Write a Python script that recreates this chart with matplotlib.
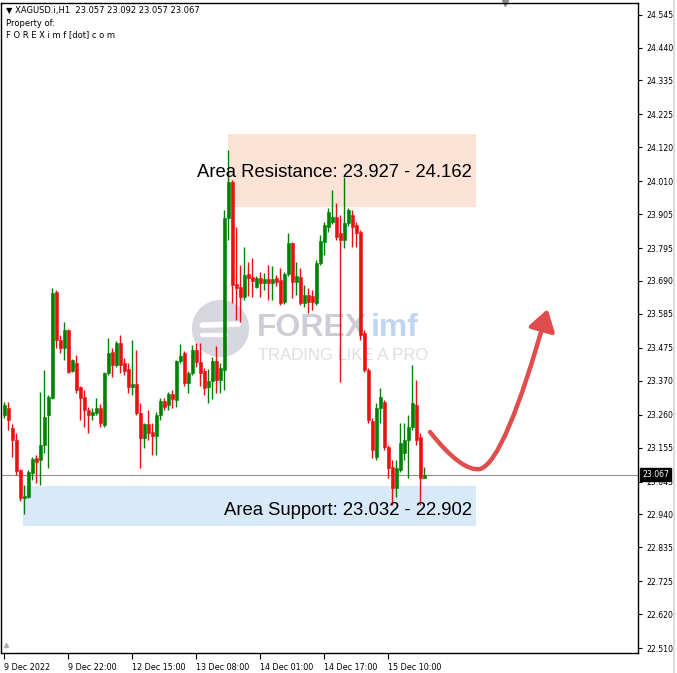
import matplotlib
matplotlib.use("Agg")
import matplotlib.pyplot as plt
import matplotlib.transforms as mtransforms
from matplotlib.patches import FancyArrowPatch, Rectangle
from matplotlib.path import Path
from matplotlib.lines import Line2D
import numpy as np

# XAGUSD H1 candles (oldest first)
opens = [23.260, 23.282, 23.218, 23.179, 23.083, 22.993, 22.996, 23.073, 23.121, 23.115,
         23.163, 23.260, 23.314, 23.655, 23.501, 23.475, 23.533, 23.401, 23.427, 23.349,
         23.317, 23.276, 23.260, 23.266, 23.282, 23.227, 23.394, 23.462, 23.420, 23.491,
         23.427, 23.407, 23.349, 23.359, 23.266, 23.186, 23.231, 23.205, 23.192, 23.260,
         23.305, 23.292, 23.327, 23.308, 23.433, 23.459, 23.362, 23.394, 23.468, 23.430,
         23.401, 23.349, 23.369, 23.433, 23.372, 23.404, 23.893, 24.008, 23.681, 23.671,
         23.639, 23.713, 23.703, 23.671, 23.700, 23.684, 23.697, 23.684, 23.700, 23.693,
         23.623, 23.713, 23.812, 23.687, 23.703, 23.619, 23.645, 23.642, 23.619, 23.748,
         23.815, 23.864, 23.880, 23.896, 23.844, 23.822, 23.877, 23.902, 23.870, 23.848,
         23.523, 23.404, 23.240, 23.124, 23.282, 23.301, 23.157, 23.092, 23.025, 23.083,
         23.137, 23.179, 23.221, 23.292, 23.189, 23.057]
highs = [23.301, 23.301, 23.231, 23.202, 23.086, 23.035, 23.083, 23.124, 23.131, 23.333,
         23.404, 23.324, 23.667, 23.661, 23.517, 23.558, 23.536, 23.439, 23.452, 23.353,
         23.340, 23.285, 23.282, 23.314, 23.295, 23.397, 23.507, 23.475, 23.497, 23.517,
         23.443, 23.427, 23.501, 23.468, 23.298, 23.234, 23.276, 23.234, 23.269, 23.314,
         23.314, 23.333, 23.340, 23.436, 23.488, 23.465, 23.401, 23.484, 23.491, 23.491,
         23.411, 23.407, 23.446, 23.481, 23.427, 23.918, 24.111, 24.015, 23.864, 23.741,
         23.799, 23.751, 23.764, 23.706, 23.719, 23.716, 23.741, 23.738, 23.709, 23.732,
         23.719, 23.844, 23.815, 23.751, 23.732, 23.677, 23.668, 23.661, 23.758, 23.838,
         23.880, 23.925, 23.982, 23.941, 23.902, 24.024, 23.925, 23.918, 23.880, 23.854,
         23.533, 23.411, 23.250, 23.298, 23.346, 23.308, 23.163, 23.115, 23.115, 23.234,
         23.234, 23.260, 23.420, 23.372, 23.202, 23.092]
lows = [23.250, 23.211, 23.124, 23.067, 22.983, 22.942, 22.993, 23.051, 23.041, 23.035,
        23.137, 23.089, 23.311, 23.475, 23.459, 23.436, 23.394, 23.398, 23.330, 23.244,
        23.221, 23.202, 23.244, 23.260, 23.221, 23.221, 23.388, 23.382, 23.414, 23.394,
        23.388, 23.330, 23.324, 23.260, 23.089, 23.154, 23.179, 23.131, 23.131, 23.244,
        23.276, 23.276, 23.282, 23.285, 23.427, 23.353, 23.330, 23.388, 23.414, 23.353,
        23.324, 23.298, 23.311, 23.330, 23.330, 23.340, 23.822, 23.619, 23.565, 23.558,
        23.629, 23.642, 23.639, 23.668, 23.639, 23.661, 23.629, 23.629, 23.674, 23.613,
        23.616, 23.706, 23.635, 23.645, 23.613, 23.606, 23.587, 23.597, 23.613, 23.741,
        23.774, 23.848, 23.873, 23.822, 23.366, 23.796, 23.867, 23.799, 23.799, 23.501,
        23.398, 23.234, 23.121, 23.115, 23.234, 23.147, 23.057, 22.970, 22.996, 23.076,
        23.115, 23.057, 23.211, 23.163, 22.970, 23.057]
closes = [23.292, 23.244, 23.179, 23.080, 22.993, 22.999, 23.076, 23.118, 23.108, 23.163,
          23.253, 23.317, 23.651, 23.501, 23.475, 23.533, 23.398, 23.436, 23.340, 23.314,
          23.276, 23.260, 23.269, 23.282, 23.234, 23.394, 23.459, 23.420, 23.491, 23.420,
          23.401, 23.349, 23.359, 23.266, 23.186, 23.231, 23.202, 23.192, 23.260, 23.305,
          23.285, 23.327, 23.311, 23.433, 23.449, 23.362, 23.394, 23.468, 23.430, 23.394,
          23.346, 23.369, 23.433, 23.372, 23.411, 23.893, 24.008, 23.677, 23.668, 23.639,
          23.709, 23.700, 23.690, 23.700, 23.684, 23.697, 23.684, 23.697, 23.687, 23.619,
          23.713, 23.812, 23.687, 23.706, 23.619, 23.645, 23.623, 23.623, 23.748, 23.819,
          23.870, 23.912, 23.896, 23.832, 23.822, 23.877, 23.918, 23.864, 23.844, 23.517,
          23.404, 23.244, 23.147, 23.282, 23.317, 23.157, 23.089, 23.025, 23.089, 23.170,
          23.179, 23.221, 23.298, 23.179, 23.057, 23.067]

price_ticks = [24.545, 24.440, 24.335, 24.225, 24.120, 24.010, 23.905, 23.795, 23.690, 23.585,
               23.475, 23.370, 23.260, 23.155, 23.045, 22.940, 22.835, 22.725, 22.620, 22.510]
time_labels = ["9 Dec 2022", "9 Dec 22:00", "12 Dec 15:00", "13 Dec 08:00",
               "14 Dec 01:00", "14 Dec 17:00", "15 Dec 10:00"]
time_bars = [0, 16, 32, 48, 64, 80, 96]

resistance = (23.927, 24.162)
support = (22.902, 23.032)
last_price = 23.067

o = np.array(opens); h = np.array(highs); l = np.array(lows); c = np.array(closes)
x = np.arange(len(o))
bull = c >= o
cols = np.where(bull, "#008000", "#e81010")

fig = plt.figure(figsize=(6.77, 6.73), dpi=100)
ax = fig.add_axes([1/677, 20/673, 637/677, 650/673])
ax.set_xlim(-0.825, 158.4)
ax.set_ylim(22.495, 24.583)

# zones
ax.add_patch(Rectangle((55.9, resistance[0]), 62, resistance[1] - resistance[0],
                       facecolor="#fce3d6", edgecolor="none", zorder=0))
ax.add_patch(Rectangle((4.7, support[0]), 113.2, support[1] - support[0],
                       facecolor="#d8e9fa", edgecolor="none", zorder=0))

# watermark
ax.scatter([53.9], [23.539], s=1700, color="#d7d7e0", zorder=0.5, linewidths=0)
ax.plot([49.5, 58.5], [23.548, 23.552], color="white", lw=4, zorder=0.6, solid_capstyle="round")
ax.plot([49.5, 55.5], [23.515, 23.515], color="white", lw=3, zorder=0.6, solid_capstyle="round")
ax.text(63.2, 23.539, "FOREX", fontsize=23, fontweight="bold", color="#cdcdd8",
        family="Liberation Sans", ha="left", va="center", zorder=0.5)
ax.text(91.6, 23.539, "imf", fontsize=23, fontweight="bold", color="#bfd6ef",
        family="Liberation Sans", ha="left", va="center", zorder=0.5)
ax.text(63.3, 23.452, "TRADING LIKE A PRO", fontsize=12, color="#dedede",
        family="Liberation Sans", ha="left", va="center", zorder=0.5)

# current price line
ax.axhline(last_price, color="#909090", lw=0.8, zorder=1)

# candles
ax.vlines(x, l, h, colors=cols, lw=1, zorder=2)
body_lo = np.minimum(o, c)
body_h = np.maximum(np.abs(c - o), 0.003)
ax.bar(x, body_h, bottom=body_lo, width=0.62, color=cols, edgecolor=cols, lw=0.4, zorder=3)

# zone labels
ax.text(116.9, 24.040, "Area Resistance: %.3f - %.3f" % resistance, fontsize=13.3,
        family="Liberation Sans", ha="right", va="center", zorder=4)
ax.text(116.9, 22.954, "Area Support: %.3f - %.3f" % (support[1], support[0]), fontsize=13.3,
        family="Liberation Sans", ha="right", va="center", zorder=4)

# red projection arrow
arrow_path = Path([(106.4, 23.205), (114.4, 23.076), (118.9, 23.086),
                   (125.1, 23.108), (135.8, 23.600)],
                  [Path.MOVETO, Path.CURVE3, Path.CURVE3, Path.CURVE3, Path.CURVE3])
ax.add_patch(FancyArrowPatch(path=arrow_path, arrowstyle="-|>,head_length=0.7,head_width=0.45",
                             mutation_scale=18, color="#e04d4d", lw=3.2, zorder=5,
                             capstyle="round"))

# axes styling
for s in ax.spines.values():
    s.set_linewidth(1)
    s.set_color("black")
ax.yaxis.tick_right()
ax.set_yticks(price_ticks)
ax.set_yticklabels(["%.3f" % v for v in price_ticks])
ax.tick_params(axis="y", length=3, width=0.8, pad=3, labelsize=5.6)
ax.set_xticks(time_bars)
ax.set_xticklabels(time_labels)
ax.tick_params(axis="x", length=4, width=0.8, pad=3, labelsize=5.8)
for lab in ax.get_xticklabels():
    lab.set_ha("left")

ax.annotate("%.3f" % last_price, xy=(1.0, last_price), xycoords=("axes fraction", "data"),
            xytext=(3, 0), textcoords="offset points", fontsize=5.6, color="white",
            ha="left", va="center", zorder=10,
            bbox=dict(boxstyle="square,pad=0.25", fc="black", ec="black"))

# small chart markers
tr = mtransforms.blended_transform_factory(ax.transData, ax.transAxes)
ax.plot([125.2], [1.0], marker="v", ms=5, color="#8a8a8a", transform=tr, clip_on=False)
ax.plot([0.3], [0.012], marker="^", ms=3, color="#b0b0b0", transform=tr, clip_on=False)

# header
fig.text(6/677, 1 - 11/673, "\u25bc XAGUSD.i,H1  23.057 23.092 23.057 23.067",
         fontsize=6.0, va="center", ha="left")
fig.text(6/677, 1 - 23/673, "Property of:", fontsize=6.0, va="center", ha="left")
fig.text(6/677, 1 - 35/673, "F O R E X i m f [dot] c o m", fontsize=6.0, va="center", ha="left")

fig.add_artist(Line2D([673.5/677, 673.5/677], [0, 1], color="#d4d4d4", lw=1.2))

fig.savefig("out.png", dpi=100)
